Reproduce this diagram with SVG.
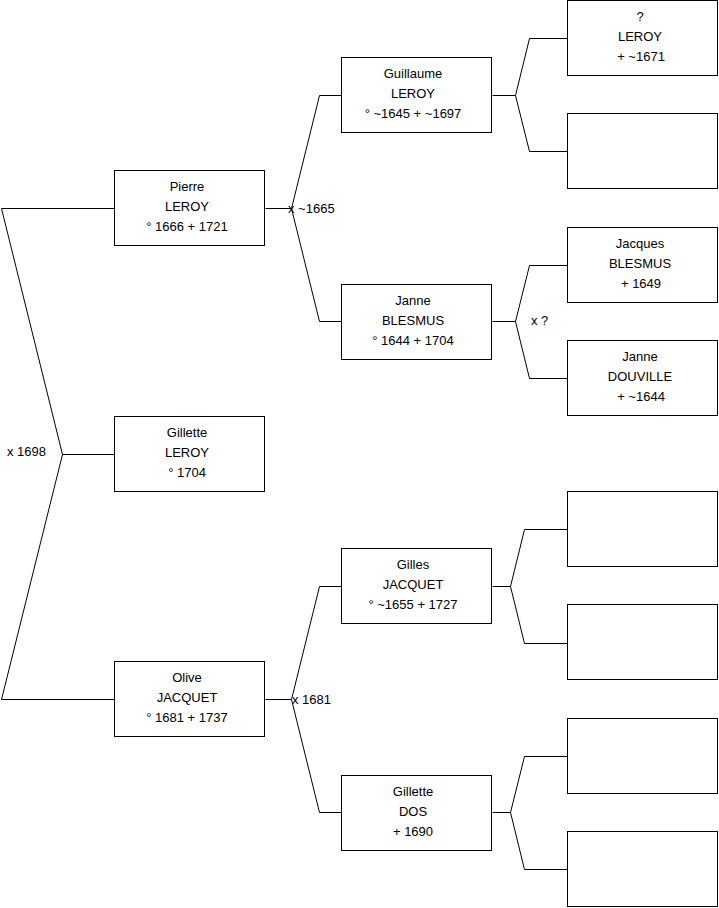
<svg xmlns="http://www.w3.org/2000/svg" width="719" height="908" viewBox="0 0 719 908">
<style>
.box{fill:#fff;stroke:#000;stroke-width:1}
.t{font-family:"Liberation Sans",Arial,sans-serif;font-size:13px;fill:#000;text-anchor:middle}
.l{font-family:"Liberation Sans",Arial,sans-serif;font-size:13px;fill:#000}
.c{fill:none;stroke:#000;stroke-width:1}
</style>
<rect width="719" height="908" fill="#fff"/>
<g id="connectors">
<path class="c" d="M114.5,208.5 H1.5 L62.5,454.5 L1.5,699.5 H114.5 M62.5,454.5 H114.5"/>
<path class="c" d="M265.5,208.5 H291.5 L319.5,95.5 H341.5 M291.5,208.5 L319.5,321.5 H341.5"/>
<path class="c" d="M265.5,699.5 H291.5 L319.5,586.5 H341.5 M291.5,699.5 L319.5,812.5 H341.5"/>
<path class="c" d="M492.5,95.5 H515.5 L529.5,38.5 H567.5 M515.5,95.5 L529.5,151.5 H567.5"/>
<path class="c" d="M492.5,321.5 H515.5 L529.5,265.5 H567.5 M515.5,321.5 L529.5,378.5 H567.5"/>
<path class="c" d="M492.5,586.5 H510.5 L524.5,529.5 H567.5 M510.5,586.5 L524.5,643.5 H567.5"/>
<path class="c" d="M492.5,812.5 H510.5 L524.5,756.5 H567.5 M510.5,812.5 L524.5,869.5 H567.5"/>
<text class="l" x="7" y="456">x 1698</text>
<text class="l" x="288" y="213">x ~1665</text>
<text class="l" x="292" y="704">x 1681</text>
<text class="l" x="531" y="325">x ?</text>
</g>
<g id="pierre"><rect class="box" x="114.5" y="170.5" width="150" height="75"/><text class="t" x="187" y="191">Pierre</text><text class="t" x="187" y="211">LEROY</text><text class="t" x="187" y="231">° 1666 + 1721</text></g>
<g id="gillette"><rect class="box" x="114.5" y="416.5" width="150" height="75"/><text class="t" x="187" y="437">Gillette</text><text class="t" x="187" y="457">LEROY</text><text class="t" x="187" y="477">° 1704</text></g>
<g id="olive"><rect class="box" x="114.5" y="661.5" width="150" height="75"/><text class="t" x="187" y="682">Olive</text><text class="t" x="187" y="702">JACQUET</text><text class="t" x="187" y="722">° 1681 + 1737</text></g>
<g id="guillaume"><rect class="box" x="341.5" y="57.5" width="150" height="75"/><text class="t" x="413" y="78">Guillaume</text><text class="t" x="413" y="98">LEROY</text><text class="t" x="413" y="118">° ~1645 + ~1697</text></g>
<g id="janne"><rect class="box" x="341.5" y="284.5" width="150" height="75"/><text class="t" x="413" y="305">Janne</text><text class="t" x="413" y="325">BLESMUS</text><text class="t" x="413" y="345">° 1644 + 1704</text></g>
<g id="gilles"><rect class="box" x="341.5" y="548.5" width="150" height="75"/><text class="t" x="413" y="569">Gilles</text><text class="t" x="413" y="589">JACQUET</text><text class="t" x="413" y="609">° ~1655 + 1727</text></g>
<g id="gillette-dos"><rect class="box" x="341.5" y="775.5" width="150" height="75"/><text class="t" x="413" y="796">Gillette</text><text class="t" x="413" y="816">DOS</text><text class="t" x="413" y="836">+ 1690</text></g>
<g id="leroy-unknown"><rect class="box" x="567.5" y="0.5" width="150" height="75"/><text class="t" x="640" y="21">?</text><text class="t" x="640" y="41">LEROY</text><text class="t" x="641" y="61">+ ~1671</text></g>
<g id="empty1"><rect class="box" x="567.5" y="113.5" width="150" height="75"/></g>
<g id="jacques"><rect class="box" x="567.5" y="227.5" width="150" height="75"/><text class="t" x="640" y="248">Jacques</text><text class="t" x="640" y="268">BLESMUS</text><text class="t" x="641" y="288">+ 1649</text></g>
<g id="janne-douville"><rect class="box" x="567.5" y="340.5" width="150" height="75"/><text class="t" x="640" y="361">Janne</text><text class="t" x="640" y="381">DOUVILLE</text><text class="t" x="641" y="401">+ ~1644</text></g>
<g id="empty2"><rect class="box" x="567.5" y="491.5" width="150" height="75"/></g>
<g id="empty3"><rect class="box" x="567.5" y="604.5" width="150" height="75"/></g>
<g id="empty4"><rect class="box" x="567.5" y="718.5" width="150" height="75"/></g>
<g id="empty5"><rect class="box" x="567.5" y="831.5" width="150" height="75"/></g>
</svg>
